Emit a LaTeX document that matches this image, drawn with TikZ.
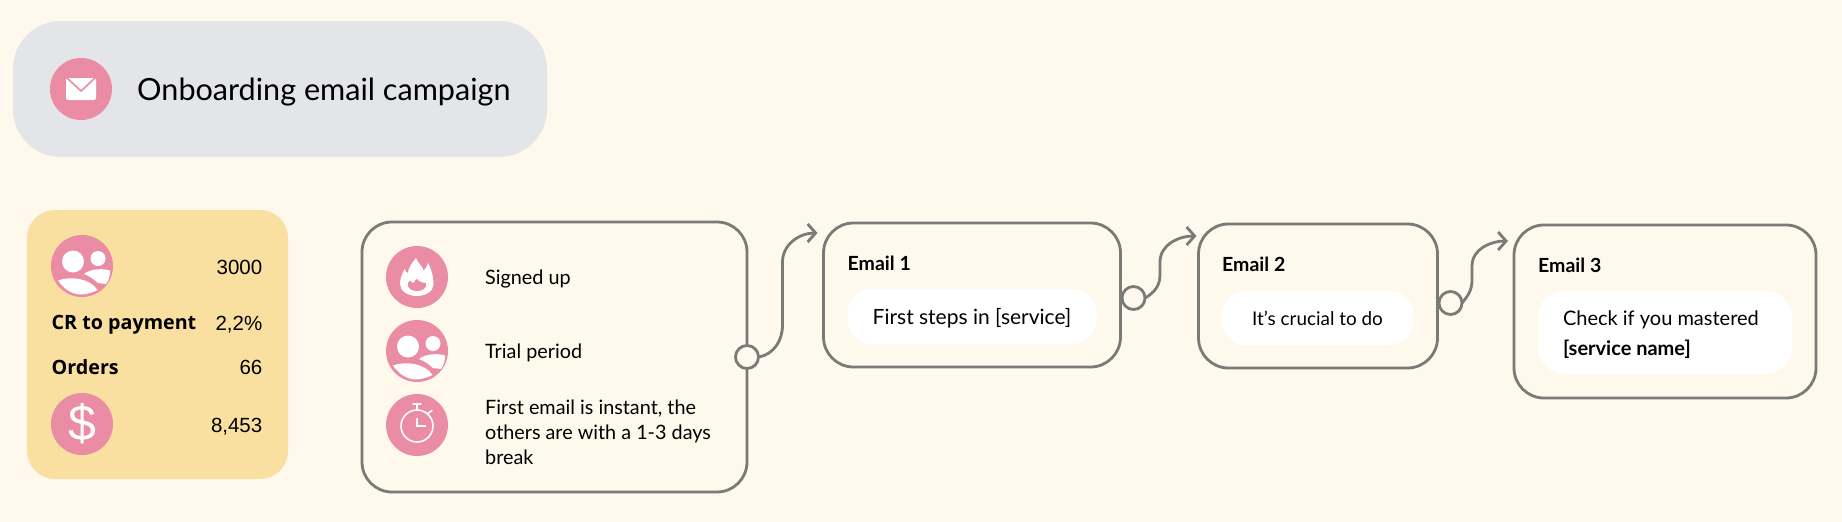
\documentclass[tikz,border=0pt]{standalone}
\usepackage{fontspec}
\usepackage{xcolor}
\usetikzlibrary{arrows.meta, positioning}
\setmainfont{Lato}
\newfontfamily\statfont{Open Sans}
\newfontfamily\numfont{Liberation Sans}

\definecolor{pagebg}{HTML}{FFF8EC}
\definecolor{titlegrey}{HTML}{E3E5E9}
\definecolor{statyellow}{HTML}{F9DFA0}
\definecolor{iconpink}{HTML}{EB8CA5}
\definecolor{linegrey}{HTML}{7A7A76}

% white glyphs drawn on top of an icon circle, in px around its centre
\newcommand{\mailglyph}[1]{\begin{scope}[shift={(#1)}]
  \fill[white, rounded corners=2pt] (-15,-11) rectangle (15,11);
  \draw[iconpink, line width=1.6pt] (-14,-11) -- (0,2) -- (14,-11);
\end{scope}}
\newcommand{\peopleglyph}[1]{\begin{scope}[shift={(#1)}]
  \fill[white] (-9,-4.5) circle (11);
  \fill[white] (16,-7.5) circle (7.5);
  \fill[white] (-24,14.5) .. controls (-12,10) and (8,12) .. (15.5,24) .. controls (10,27) and (3,28.5) .. (-2,28.5) .. controls (-11,28) and (-19,22) .. (-24,14.5) -- cycle;
  \fill[white] (2,8) .. controls (8,3) and (20,2) .. (28,4.5) .. controls (28,10) and (27,14) .. (24,18) -- (16,17) .. controls (12,13) and (7,10) .. (2,8) -- cycle;
\end{scope}}
\newcommand{\flameglyph}[1]{\begin{scope}[shift={(#1)}]
  \fill[white] (-1,-19) .. controls (1,-13) and (7,-10) .. (6.5,-6) .. controls (8,-8) and (10,-10) .. (11,-14) .. controls (15,-7) and (16.5,2) .. (16.5,7) .. controls (16.5,14) and (9,19) .. (0,19) .. controls (-9,19) and (-17,14) .. (-17,7) .. controls (-17,2) and (-15,-3) .. (-12.5,-8) .. controls (-12,-6) and (-11,-5) .. (-9,-4) .. controls (-9,-9) and (-5,-14) .. (-1,-19) -- cycle;
  \fill[iconpink] (0,2) .. controls (1,4) and (5,6) .. (9,6) .. controls (10,11) and (6,14) .. (0,14) .. controls (-6,14) and (-10,11) .. (-9,6) .. controls (-8.5,5) and (-8,4) .. (-7,3.5) .. controls (-6,5) and (-5,6) .. (-3,6) .. controls (-3,4.5) and (-2,3) .. (0,2) -- cycle;
\end{scope}}
\newcommand{\timerglyph}[1]{\begin{scope}[shift={(#1)}, white, line width=1.6pt]
  \draw (0,1) circle (16);
  \draw (0,-20) -- (0,-15);
  \draw[line cap=round] (-4,-21) -- (4,-21);
  \draw[line cap=round] (10,-11) -- (15,-14.5);
  \draw (0,-7) -- (0,1) -- (9,1);
\end{scope}}

\begin{document}
\begin{tikzpicture}[x=1pt,y=-1pt,node distance=74pt]
\tikzstyle{icon} = [circle, fill=iconpink, minimum size=62pt, inner sep=0pt, outer sep=0pt]
\tikzstyle{titlebox} = [rectangle, rounded corners=48pt, fill=titlegrey, minimum width=534pt, minimum height=136pt]
\tikzstyle{statbox} = [rectangle, rounded corners=28pt, fill=statyellow, minimum width=261pt, minimum height=269pt]
\tikzstyle{flowbox} = [rectangle, rounded corners=30pt, draw=linegrey, line width=2.8pt, outer sep=0pt]
\tikzstyle{pill} = [rectangle, rounded corners=24pt, fill=white, font=\fontsize{20}{30}\selectfont]
\tikzstyle{knob} = [circle, draw=linegrey, fill=pagebg, line width=2.8pt, minimum size=23pt, inner sep=0pt, outer sep=0pt]
\tikzstyle{arrow} = [draw=linegrey, line width=2.8pt, -{Straight Barb[length=8pt,width=18pt]}]
\tikzstyle{statnum} = [anchor=east, inner sep=0pt, font=\numfont\fontsize{20.5}{25}\selectfont]
\tikzstyle{statlabel} = [anchor=west, inner sep=0pt, font=\statfont\bfseries\fontsize{19.7}{25}\selectfont]
\tikzstyle{line} = [anchor=west, inner sep=0pt, align=left, font=\fontsize{19.8}{25}\selectfont]
\tikzstyle{mailhead} = [anchor=west, inner sep=0pt, font=\bfseries\fontsize{19.5}{25}\selectfont]

\fill[pagebg] (0,0) rectangle (1842,522);
\useasboundingbox (0,0) rectangle (1842,522);

% campaign title
\node (title) [titlebox] at (280,89) {};
\node (mailicon) [icon] at (81,89) {};
\mailglyph{mailicon.center}
\node (titletext) [inner sep=0pt, right=25pt of mailicon, yshift=-3pt, font=\fontsize{30.6}{36}\selectfont] {Onboarding email campaign};

% numbers on the left
\node (stats) [statbox] at (157.5,344.5) {};
\node (users) [icon] at (82,266) {};
\peopleglyph{users.center}
\node (usersnum) [statnum] at (262.5,267.5) {3000};
\node (crlabel) [statlabel] at (51.5,324.5) {CR to payment};
\node (crnum) [statnum] at (262.5,325) {2,2\%};
\node (orderslabel) [statlabel] at (51.5,367) {Orders};
\node (ordersnum) [statnum] at (262.5,367) {66};
\node (money) [icon, below of=users, node distance=158pt] {\numfont\fontsize{50}{50}\selectfont\textcolor{white}{\$}};
\node (moneynum) [statnum] at (262.5,426.5) {8,453};

% entry box
\node (entry) [flowbox, minimum width=385pt, minimum height=270pt] at (554.5,357) {};
\node (signup) [icon] at (417,277) {};
\flameglyph{signup.center}
\node (trial) [icon, below of=signup] {};
\peopleglyph{trial.center}
\node (timer) [icon, below of=trial] {};
\timerglyph{timer.center}
\node (signuptext) [line, right=37pt of signup, yshift=-2pt] {Signed up};
\node (trialtext) [line, right=37pt of trial, yshift=-2pt] {Trial period};
\node (timertext) [line, right=37pt of timer, yshift=-7.5pt] {First email is instant, the\\others are with a 1-3 days\\break};

% the three emails
\node (mailone) [flowbox, right of=entry, xshift=343.5pt, yshift=62pt, minimum width=297pt, minimum height=144pt] {};
\node (mailtwo) [flowbox, right of=mailone, xshift=272pt, yshift=-1pt, minimum width=239pt, minimum height=144pt] {};
\node (mailthree) [flowbox, right of=mailtwo, xshift=273pt, yshift=-15.5pt, minimum width=302pt, minimum height=173pt] {};

\node (onehead) [mailhead] at ([xshift=24pt,yshift=-40pt]mailone.north west) {Email 1};
\node (twohead) [mailhead] at ([xshift=23.5pt,yshift=-40pt]mailtwo.north west) {Email 2};
\node (threehead) [mailhead] at ([xshift=24pt,yshift=-40pt]mailthree.north west) {Email 3};

\node (onetext) [pill, below of=mailone, node distance=21.5pt, text depth=0pt, minimum width=249pt, minimum height=55pt, font=\fontsize{21}{30}\selectfont] {First steps in [service]};
\node (twotext) [pill, below of=mailtwo, node distance=22pt, xshift=-0.5pt, text depth=0pt, minimum width=192pt, minimum height=54pt, font=\fontsize{18.9}{30}\selectfont] {It’s crucial to do};
\node (threepill) [pill, below of=mailthree, node distance=21pt, rounded corners=26pt, minimum width=254pt, minimum height=83pt] {};
\node (threetext) [line, font=\fontsize{20}{30}\selectfont] at ([xshift=25pt,yshift=-2.4pt]threepill.west) {Check if you mastered\\\textbf{[service name]}};

% connectors
\node (knobone) [knob] at (entry.east) {};
\node (knobtwo) [knob] at ([xshift=13pt,yshift=-3pt]mailone.east) {};
\node (knobthree) [knob] at ([xshift=13pt,yshift=-7pt]mailtwo.east) {};
\coordinate (inone) at ([xshift=-6pt,yshift=62pt]mailone.west);
\coordinate (intwo) at ([xshift=-2pt,yshift=60pt]mailtwo.west);
\coordinate (inthree) at ([xshift=-6pt,yshift=70.5pt]mailthree.west);

\draw [arrow] (knobone.east) to[out=10,in=-90] (782.5,325) -- (782.5,262) to[out=90,in=180] (inone);
\draw [arrow] (knobtwo.east) to[out=30,in=-90] (1160,275) -- (1160,262) to[out=90,in=180] (intwo);
\draw [arrow] (knobthree.east) to[out=50,in=-90] (1472,280) -- (1472,266) to[out=90,in=180] (inthree);
\end{tikzpicture}
\end{document}
